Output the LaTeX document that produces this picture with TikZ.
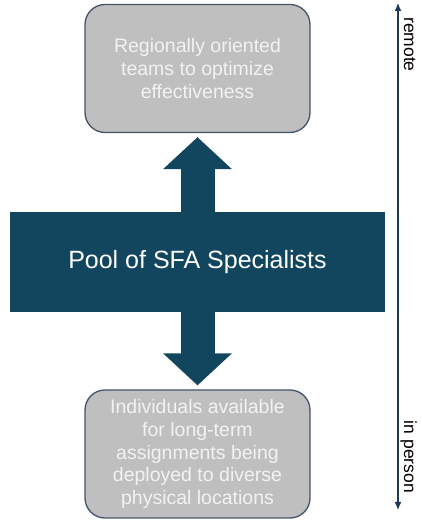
\documentclass[tikz,border=0pt]{standalone}
\usepackage{fontspec}
\setmainfont{Liberation Sans}
\usetikzlibrary{arrows.meta, positioning, calc}
\definecolor{pool}{HTML}{12465E}
\definecolor{boxfill}{HTML}{BFBFBF}
\definecolor{boxline}{HTML}{44546A}
\definecolor{axis}{HTML}{1F3A56}

\tikzset{
  place/.style={draw=boxline, line width=1.3pt, fill=boxfill, rounded corners=20pt,
    minimum width=225pt, minimum height=128pt, align=center, text=white!95!black,
    font=\fontsize{19.5}{22.8}\selectfont},
  bigarrow/.style={pool, line width=34pt, -{Triangle[width=67pt, length=32pt]}},
  sidelabel/.style={rotate=-90, inner sep=0pt, font=\fontsize{17.5}{20}\selectfont},
}

\begin{document}
\begin{tikzpicture}[x=1pt, y=1pt]
    \useasboundingbox (0,0) rectangle (421,520);
    % middle band and the two placements
    \node[fill=pool, minimum width=375pt, minimum height=100pt, text=white,
      font=\fontsize{25}{30}\selectfont] (pool) at (197.5,258) {Pool of SFA Specialists};
    \node[place] (remote) at (197.5,451.5) {Regionally oriented\\teams to optimize\\effectiveness};
    \node[place] (person) at (197.5,66) {Individuals available\\for long-term\\assignments being\\deployed to diverse\\physical locations};
    \draw[bigarrow] (pool.north) -- ($(remote.south)+(0,-4)$);
    \draw[bigarrow] (pool.south) -- ($(person.north)+(0,4)$);
    % side scale
    \coordinate (top) at (398,517);
    \coordinate (bottom) at (398,10);
    \draw[axis, line width=1.3pt, {Latex[length=8pt, width=7pt]}-{Latex[length=8pt, width=7pt]}] (bottom) -- (top);
    \node[sidelabel, anchor=base west] (far) at (404,503) {remote};
    \node[sidelabel, anchor=base east] (near) at (404,27) {in person};
  \end{tikzpicture}
\end{document}
